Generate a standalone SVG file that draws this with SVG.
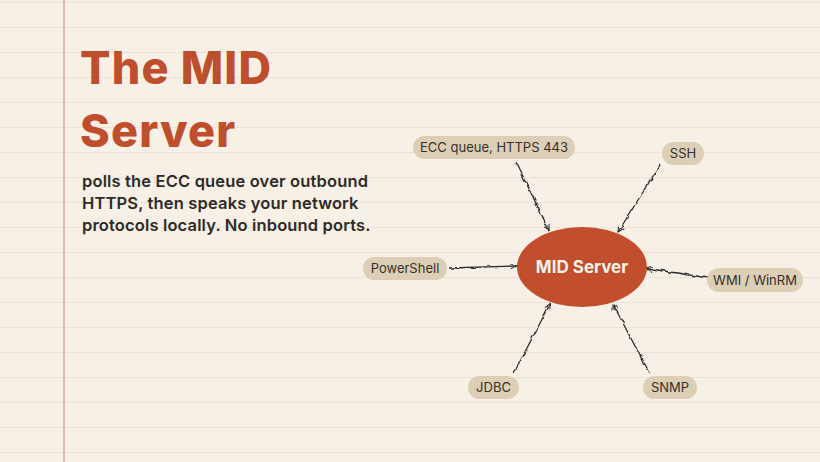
<svg xmlns="http://www.w3.org/2000/svg" width="820" height="462" viewBox="0 0 820 462">
  <defs>
    <pattern id="rule" x="0" y="2" width="820" height="25" patternUnits="userSpaceOnUse">
      <line x1="0" y1="0.5" x2="820" y2="0.5" stroke="#ebe3d7" stroke-width="1"/>
    </pattern>
    <marker id="arr" viewBox="0 0 10 10" refX="9" refY="5" markerWidth="7" markerHeight="7" orient="auto" markerUnits="userSpaceOnUse">
      <path d="M1,1 L9,5 L1,9" fill="none" stroke="#2a2a2a" stroke-width="1.4"/>
    </marker>
    <filter id="wobble" x="-20%" y="-20%" width="140%" height="140%">
      <feTurbulence type="fractalNoise" baseFrequency="0.12" numOctaves="2" seed="3" result="n"/>
      <feDisplacementMap in="SourceGraphic" in2="n" scale="4" xChannelSelector="R" yChannelSelector="G"/>
    </filter>
  </defs>
  <style>
    .pill { fill: #dccfb5; }
    .lbl { font-family: Inter, "Noto Sans", "Liberation Sans", sans-serif; font-size: 13px; fill: #35302b; text-anchor: middle; }
    .conn { fill: none; stroke: #2a2a2a; stroke-width: 1.3; marker-end: url(#arr); }
    .title { font-family: Inter, "Noto Sans", "Liberation Sans", sans-serif; font-weight: 800; font-size: 45px; letter-spacing: 1.2px; fill: #bf4e2c; }
    .sub { font-family: Inter, "Noto Sans", "Liberation Sans", sans-serif; font-weight: 600; font-size: 16.5px; letter-spacing: 0.15px; fill: #2e2a26; }
  </style>
  <rect width="820" height="462" fill="#f6f0e6"/>
  <rect width="820" height="462" fill="url(#rule)"/>
  <line x1="64" y1="0" x2="64" y2="462" stroke="#e2aaa0" stroke-width="1.5"/>

  <g id="title">
    <text class="title" x="80" y="84">The MID</text>
    <text class="title" x="80" y="147">Server</text>
  </g>
  <g id="subtitle">
    <text class="sub" x="82" y="187">polls the ECC queue over outbound</text>
    <text class="sub" x="82" y="209">HTTPS, then speaks your network</text>
    <text class="sub" x="82" y="231">protocols locally. No inbound ports.</text>
  </g>

  <g id="connectors" filter="url(#wobble)">
    <path class="conn" d="M516,162 L549,230"/>
    <path class="conn" d="M660,165 L618,232"/>
    <path class="conn" d="M449,268 L517,266"/>
    <path class="conn" d="M708,278 L646,268"/>
    <path class="conn" d="M514,373 L550,304"/>
    <path class="conn" d="M649,373 L613,304"/>
  </g>

  <g id="mid-server">
    <ellipse cx="582" cy="267" rx="65" ry="40" fill="#c14f2e"/>
    <text x="582" y="273" text-anchor="middle" font-family="Inter, 'Noto Sans', 'Liberation Sans', sans-serif" font-weight="700" font-size="17" fill="#fbf3ea">MID Server</text>
  </g>

  <g id="ecc">
    <rect class="pill" x="413" y="136" width="162" height="23" rx="11.5"/>
    <text class="lbl" x="494" y="152">ECC queue, HTTPS 443</text>
  </g>
  <g id="ssh">
    <rect class="pill" x="662" y="142" width="42" height="23" rx="11.5"/>
    <text class="lbl" x="683" y="158">SSH</text>
  </g>
  <g id="powershell">
    <rect class="pill" x="363" y="257" width="84" height="23" rx="11.5"/>
    <text class="lbl" x="405" y="273">PowerShell</text>
  </g>
  <g id="wmi">
    <rect class="pill" x="707" y="268" width="96" height="24" rx="12"/>
    <text class="lbl" x="755" y="284.5">WMI / WinRM</text>
  </g>
  <g id="jdbc">
    <rect class="pill" x="468" y="376" width="51" height="23" rx="11.5"/>
    <text class="lbl" x="493.5" y="392">JDBC</text>
  </g>
  <g id="snmp">
    <rect class="pill" x="643" y="376" width="54" height="23" rx="11.5"/>
    <text class="lbl" x="670" y="392">SNMP</text>
  </g>
</svg>
